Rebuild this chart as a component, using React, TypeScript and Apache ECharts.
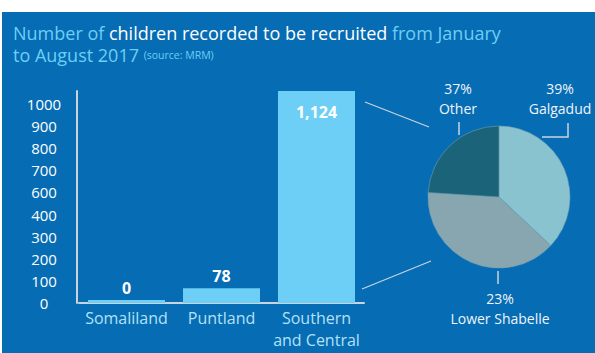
import React, { useEffect, useRef } from "react";
import * as echarts from "echarts";

const regions = ["Somaliland", "Puntland", "Southern\nand Central"];
const recruited = [0, 78, 1124];
const recruitedLabels = ["0", "78", "1,124"];
const yTickLabels = ["0", "100", "200", "300", "400", "600", "700", "800", "900", "1000"];

const pieNames = ["Galgadud", "Lower Shabelle", "Other"];
const pieValues = [37, 39, 24];
const pieLabelPercents = ["39%", "23%", "37%"];

const FONT = "'Open Sans', sans-serif";
const BG = "#066cb4";
const LIGHT = "#6dcff6";
const LINE = "#c9d4de";

export default function App() {
  const ref = useRef<HTMLDivElement>(null);
  useEffect(() => {
    document.body.style.margin = "0";
    const chart = echarts.init(ref.current!, null, { renderer: "svg" });
    const pieColors = ["#8ac3d0", "#87a6b0", "#1a6379"];
    const labelPos = [
      { x: 560, y: 98, pts: [[542, 137], [568, 137], [568, 123]] },
      { x: 500, y: 308, pts: [[498, 271], [498, 278], [498, 284]] },
      { x: 458, y: 98, pts: [[459, 135], [459, 128], [459, 122]] },
    ];
    chart.setOption({
      animation: false,
      textStyle: { fontFamily: FONT },
      graphic: [
        { type: "rect", z: -10, shape: { x: 2, y: 12, width: 593, height: 341 }, style: { fill: BG } },
        { type: "line", shape: { x1: 365, y1: 102, x2: 429, y2: 127 }, style: { stroke: LINE, lineWidth: 1.2 } },
        { type: "line", shape: { x1: 362, y1: 289, x2: 431, y2: 261 }, style: { stroke: LINE, lineWidth: 1.2 } },
      ],
      title: {
        left: 13,
        top: 22,
        padding: 0,
        text:
          "{a|Number of }{b|children recorded to be recruited}{a| from January}\n{a|to August 2017 }{s|(source: MRM)}",
        textStyle: {
          fontFamily: FONT,
          fontWeight: "normal",
          lineHeight: 22,
          rich: {
            a: { color: LIGHT, fontSize: 18, fontWeight: "normal", fontFamily: FONT, lineHeight: 22 },
            b: { color: "#ffffff", fontSize: 18, fontWeight: "normal", fontFamily: FONT, lineHeight: 22 },
            s: { color: LIGHT, fontSize: 10.5, fontWeight: "normal", fontFamily: FONT, lineHeight: 22 },
          },
        },
      },
      grid: [
        { left: 79, width: 285, top: 91, bottom: 50 },
        { left: 44, width: 10, top: 104, bottom: 50 },
      ],
      xAxis: [
        {
          type: "category",
          gridIndex: 0,
          data: regions,
          axisLine: { lineStyle: { color: LINE, width: 2 } },
          axisTick: { show: false },
          axisLabel: { color: "#b3e1f6", fontSize: 16, fontFamily: FONT, lineHeight: 22, margin: 4, interval: 0 },
        },
        { type: "value", gridIndex: 1, show: false },
      ],
      yAxis: [
        {
          type: "value",
          gridIndex: 0,
          min: 0,
          max: 1124,
          offset: 2,
          axisLine: { show: true, lineStyle: { color: LINE, width: 2 } },
          axisTick: { show: false },
          axisLabel: { show: false },
          splitLine: { show: false },
        },
        {
          type: "category",
          gridIndex: 1,
          data: yTickLabels,
          boundaryGap: false,
          axisLine: { show: false },
          axisTick: { show: false },
          splitLine: { show: false },
          axisLabel: { color: "#ffffff", fontSize: 15, fontFamily: FONT, align: "center", margin: 0, interval: 0 },
        },
      ],
      series: [
        {
          type: "bar",
          xAxisIndex: 0,
          yAxisIndex: 0,
          barWidth: 77,
          barMinHeight: 3,
          itemStyle: { color: LIGHT },
          data: recruited.map((v, i) => ({
            value: v,
            label: {
              show: true,
              position: i === 2 ? "insideTop" : "top",
              distance: i === 2 ? 13 : 4,
              formatter: recruitedLabels[i],
              color: "#ffffff",
              fontWeight: "bold",
              fontSize: 16,
              fontFamily: FONT,
            },
          })),
        },
        {
          type: "pie",
          center: [499, 197],
          radius: 71,
          startAngle: 90,
          clockwise: true,
          avoidLabelOverlap: false,
          color: pieColors,
          itemStyle: { borderColor: "#6f9fb3", borderWidth: 0.6 },
          label: {
            show: true,
            color: "#eef4fa",
            fontSize: 14,
            fontFamily: FONT,
            lineHeight: 20,
            align: "center",
            overflow: "none",
            formatter: (p: any) => pieLabelPercents[p.dataIndex] + "\n" + pieNames[p.dataIndex],
          },
          labelLine: { show: true, lineStyle: { color: LINE, width: 1.5 } },
          labelLayout: (p: any) => {
            const l = labelPos[p.dataIndex];
            return { x: l.x, y: l.y, align: "center", verticalAlign: "middle", labelLinePoints: l.pts };
          },
          data: pieNames.map((n, i) => ({ name: n, value: pieValues[i] })),
        },
      ],
    });
    return () => chart.dispose();
  }, []);
  return <div ref={ref} style={{ position: "absolute", left: 0, top: 0, width: 595, height: 353 }} />;
}
